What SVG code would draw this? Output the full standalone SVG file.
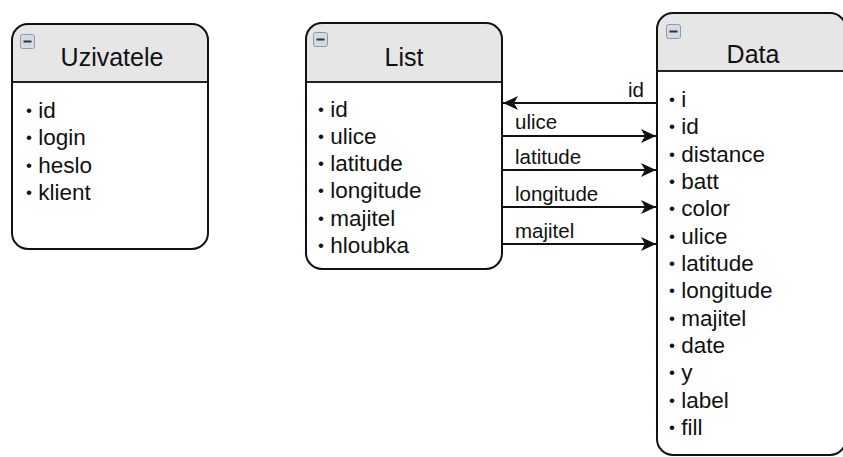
<svg xmlns="http://www.w3.org/2000/svg" width="843" height="457" viewBox="0 0 843 457">
  <defs>
    <style>
      .box { fill: none; stroke: #111; stroke-width: 2; }
      .head { fill: #e6e6e6; stroke: none; }
      .sep { stroke: #222; stroke-width: 2; }
      .title { font-family: "Liberation Sans", Arial, Helvetica, sans-serif; font-size: 25px; fill: #111; text-anchor: middle; }
      .item { font-family: "Liberation Sans", Arial, Helvetica, sans-serif; font-size: 22.5px; fill: #111; }
      .item .b { font-size: 17px; }
      .lbl { font-family: "Liberation Sans", Arial, Helvetica, sans-serif; font-size: 20.5px; fill: #111; }
      .edge { stroke: #111; stroke-width: 2; fill: none; }
      .icon-bg { fill: #d3dbe5; stroke: #8e9aa8; stroke-width: 1; }
      .icon-bar { fill: #333; }
    </style>
    <marker id="arrow" viewBox="0 0 16 14" refX="15" refY="7" markerWidth="16" markerHeight="14" markerUnits="userSpaceOnUse" orient="auto">
      <path d="M15,7 L0,0 L4,7 L0,14 Z" fill="#111"/>
    </marker>
    <g id="minus-icon">
      <rect class="icon-bg" x="0.5" y="0.5" width="14" height="14" rx="2"/>
      <rect class="icon-bar" x="3.5" y="6.5" width="8" height="2"/>
    </g>
  </defs>

  <!-- table: Uzivatele -->
  <g id="uzivatele">
    <rect x="12" y="24" width="196" height="225" rx="16" fill="#fff"/>
    <path class="head" d="M12,82 V40 A16,16 0 0 1 28,24 H192 A16,16 0 0 1 208,40 V82 Z"/>
    <line class="sep" x1="12" y1="82" x2="208" y2="82"/>
    <rect class="box" x="12" y="24" width="196" height="225" rx="16"/>
    <use href="#minus-icon" x="20" y="34"/>
    <text class="title" x="112" y="66">Uzivatele</text>
    <text class="item" x="26" y="118"><tspan class="b" dy="-2">•</tspan><tspan dy="2"> id</tspan></text>
    <text class="item" x="26" y="145.3"><tspan class="b" dy="-2">•</tspan><tspan dy="2"> login</tspan></text>
    <text class="item" x="26" y="172.6"><tspan class="b" dy="-2">•</tspan><tspan dy="2"> heslo</tspan></text>
    <text class="item" x="26" y="200"><tspan class="b" dy="-2">•</tspan><tspan dy="2"> klient</tspan></text>
  </g>

  <!-- table: List -->
  <g id="list">
    <rect x="306" y="23" width="196" height="246" rx="16" fill="#fff"/>
    <path class="head" d="M306,82 V39 A16,16 0 0 1 322,23 H486 A16,16 0 0 1 502,39 V82 Z"/>
    <line class="sep" x1="306" y1="82" x2="502" y2="82"/>
    <rect class="box" x="306" y="23" width="196" height="246" rx="16"/>
    <use href="#minus-icon" x="313" y="32"/>
    <text class="title" x="404" y="66">List</text>
    <text class="item" x="318" y="116.5"><tspan class="b" dy="-2">•</tspan><tspan dy="2"> id</tspan></text>
    <text class="item" x="318" y="143.8"><tspan class="b" dy="-2">•</tspan><tspan dy="2"> ulice</tspan></text>
    <text class="item" x="318" y="171.1"><tspan class="b" dy="-2">•</tspan><tspan dy="2"> latitude</tspan></text>
    <text class="item" x="318" y="198.4"><tspan class="b" dy="-2">•</tspan><tspan dy="2"> longitude</tspan></text>
    <text class="item" x="318" y="225.7"><tspan class="b" dy="-2">•</tspan><tspan dy="2"> majitel</tspan></text>
    <text class="item" x="318" y="253"><tspan class="b" dy="-2">•</tspan><tspan dy="2"> hloubka</tspan></text>
  </g>

  <!-- table: Data -->
  <g id="data">
    <rect x="657" y="13" width="189" height="442" rx="16" fill="#fff"/>
    <path class="head" d="M657,71 V29 A16,16 0 0 1 673,13 H830 A16,16 0 0 1 846,29 V71 Z"/>
    <line class="sep" x1="657" y1="71" x2="846" y2="71"/>
    <rect class="box" x="657" y="13" width="189" height="442" rx="16"/>
    <use href="#minus-icon" x="666" y="24"/>
    <text class="title" x="753" y="63">Data</text>
    <text class="item" x="669" y="107"><tspan class="b" dy="-2">•</tspan><tspan dy="2"> i</tspan></text>
    <text class="item" x="669" y="134.3"><tspan class="b" dy="-2">•</tspan><tspan dy="2"> id</tspan></text>
    <text class="item" x="669" y="161.7"><tspan class="b" dy="-2">•</tspan><tspan dy="2"> distance</tspan></text>
    <text class="item" x="669" y="189"><tspan class="b" dy="-2">•</tspan><tspan dy="2"> batt</tspan></text>
    <text class="item" x="669" y="216.3"><tspan class="b" dy="-2">•</tspan><tspan dy="2"> color</tspan></text>
    <text class="item" x="669" y="243.7"><tspan class="b" dy="-2">•</tspan><tspan dy="2"> ulice</tspan></text>
    <text class="item" x="669" y="271"><tspan class="b" dy="-2">•</tspan><tspan dy="2"> latitude</tspan></text>
    <text class="item" x="669" y="298.3"><tspan class="b" dy="-2">•</tspan><tspan dy="2"> longitude</tspan></text>
    <text class="item" x="669" y="325.7"><tspan class="b" dy="-2">•</tspan><tspan dy="2"> majitel</tspan></text>
    <text class="item" x="669" y="353"><tspan class="b" dy="-2">•</tspan><tspan dy="2"> date</tspan></text>
    <text class="item" x="669" y="380.3"><tspan class="b" dy="-2">•</tspan><tspan dy="2"> y</tspan></text>
    <text class="item" x="669" y="407.7"><tspan class="b" dy="-2">•</tspan><tspan dy="2"> label</tspan></text>
    <text class="item" x="669" y="435"><tspan class="b" dy="-2">•</tspan><tspan dy="2"> fill</tspan></text>
  </g>

  <!-- relations between List and Data -->
  <g id="connectors">
    <line class="edge" x1="656" y1="103" x2="503" y2="103" marker-end="url(#arrow)"/>
    <text class="lbl" x="644" y="97" text-anchor="end">id</text>
    <line class="edge" x1="503" y1="136" x2="656" y2="136" marker-end="url(#arrow)"/>
    <text class="lbl" x="515" y="129">ulice</text>
    <line class="edge" x1="503" y1="170" x2="656" y2="170" marker-end="url(#arrow)"/>
    <text class="lbl" x="515" y="164">latitude</text>
    <line class="edge" x1="503" y1="207" x2="656" y2="207" marker-end="url(#arrow)"/>
    <text class="lbl" x="515" y="201">longitude</text>
    <line class="edge" x1="503" y1="244" x2="656" y2="244" marker-end="url(#arrow)"/>
    <text class="lbl" x="515" y="238">majitel</text>
  </g>
</svg>
